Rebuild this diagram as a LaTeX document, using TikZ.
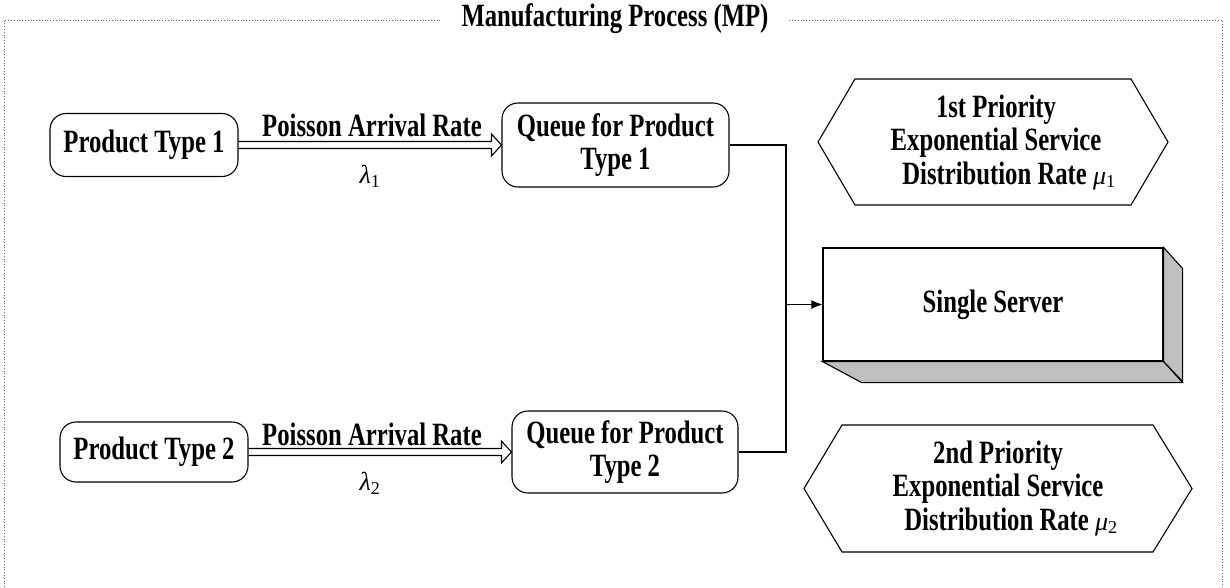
\documentclass[tikz,border=0pt]{standalone}
\usepackage{fontspec}
\setmainfont{Liberation Serif}[FakeStretch=0.76]
\newfontfamily\greekfont{Liberation Serif}
\usetikzlibrary{arrows.meta,calc}

\begin{document}
\begin{tikzpicture}[x=1pt,y=-1pt,
  every node/.style={font=\fontsize{32.5}{33.5}\selectfont\bfseries},
  roundbox/.style={draw,line width=1.1pt,rounded corners=16pt,inner sep=0pt,align=center},
  blockarrow/.style={draw,line width=1.1pt,line join=miter},
  wire/.style={draw,line width=1.1pt},
  hexagon/.style={draw,line width=1.1pt,fill=white},
  face/.style={draw,line width=1.1pt,fill=black!25},
  frame/.style={draw=black!60,dotted,line width=0.8pt},
  rate/.style={font=\fontsize{26}{30}\selectfont\greekfont\mdseries\itshape}
]
\useasboundingbox (0,0) rectangle (1230,587);

% enclosing process frame
\draw[frame] (4,587) -- (4,20) -- (1222,20) -- (1222,587);
\node[fill=white,inner xsep=20pt,inner ysep=2pt] (title) at (615,19) {Manufacturing Process (MP)};

% products and their queues
\node[roundbox,minimum width=188pt,minimum height=63pt] (p1) at (144,145) {Product Type 1};
\node[roundbox,minimum width=188pt,minimum height=60pt] (p2) at (154,452) {Product Type 2};
\node[roundbox,minimum width=227pt,minimum height=84pt] (q1) at (615.5,145) {Queue for Product\\Type 1};
\node[roundbox,minimum width=226pt,minimum height=82pt] (q2) at (625,452) {Queue for Product\\Type 2};

% arrival arrows (outlined block arrows)
\draw[blockarrow] ($(p1.east)+(0,-3.5)$) -- ($(q1.west)+(-10,-3.5)$) -- ++(0,-7.5)
  -- (q1.west) -- ++(-10,11) -- ++(0,-7.5) -- ($(p1.east)+(0,3.5)$);
\draw[blockarrow] ($(p2.east)+(0,-3.5)$) -- ($(q2.west)+(-10,-3.5)$) -- ++(0,-7.5)
  -- (q2.west) -- ++(-10,11) -- ++(0,-7.5) -- ($(p2.east)+(0,3.5)$);

\node (a1) at (372,125) {Poisson Arrival Rate};
\node (a2) at (372,434) {Poisson Arrival Rate};
\node[rate] (l1) at (370,176) {λ\textsubscript{\upshape 1}};
\node[rate] (l2) at (370,483) {λ\textsubscript{\upshape 2}};

% single server drawn as a box with depth
\node[draw,line width=1.1pt,minimum width=340pt,minimum height=113pt,inner sep=0pt] (srv) at (993,304.5) {Single Server};
\draw[face] (srv.north east) -- ++(19,21) -- ++(0,113) -- (srv.south east) -- cycle;
\draw[face] (srv.south west) -- (srv.south east) -- ++(19,21) -- ++(-321,0) -- cycle;

% queues merge into the server
\coordinate (bus) at (786,304.5);
\draw[wire] (q1.east) -| (bus) |- (q2.east);
\draw[wire,-{Latex[length=11pt,width=9pt]}] (bus) -- (srv.west);

% service rates
\draw[hexagon] (818,142) -- (855,79) -- (1131,79) -- (1168,142) -- (1131,205) -- (855,205) -- cycle;
\node[align=center] (s1) at (996,142) {1st Priority\\Exponential Service\\\hspace*{0.8em}Distribution Rate {\fontsize{26}{30}\selectfont\greekfont\mdseries\itshape μ\textsubscript{\upshape 1}}};
\draw[hexagon] (804,488.5) -- (842,425) -- (1153,425) -- (1192,488.5) -- (1153,552) -- (842,552) -- cycle;
\node[align=center] (s2) at (998,488) {2nd Priority\\Exponential Service\\\hspace*{0.8em}Distribution Rate {\fontsize{26}{30}\selectfont\greekfont\mdseries\itshape μ\textsubscript{\upshape 2}}};
\end{tikzpicture}
\end{document}
